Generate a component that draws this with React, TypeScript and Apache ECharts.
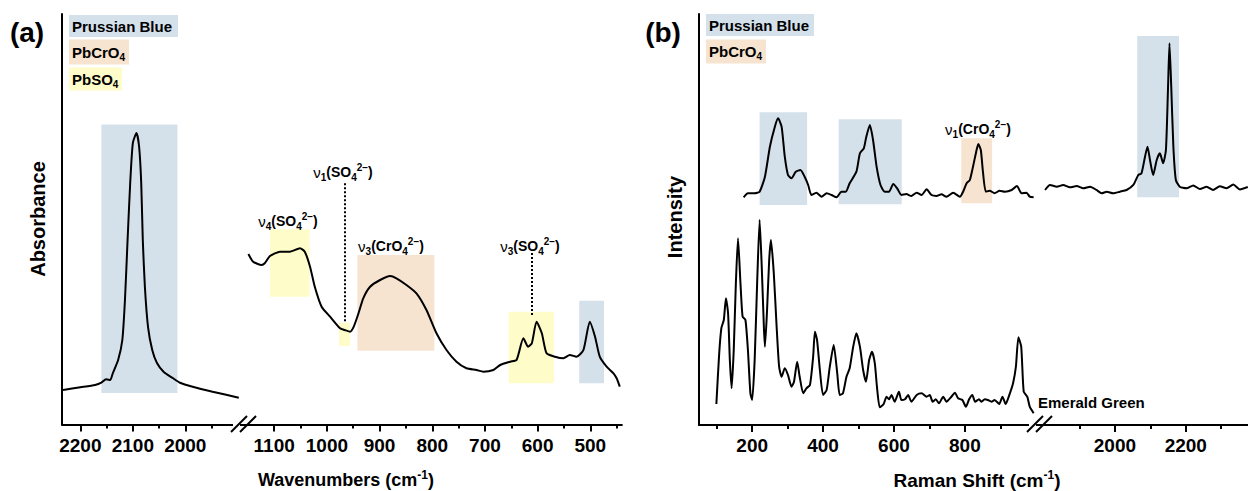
import React, { useEffect, useRef } from "react";
import * as echarts from "echarts";

// ---------- Panel (a): FTIR ----------
const irHighWn = [2233, 2200, 2172, 2160, 2151, 2143, 2138, 2128, 2120, 2115, 2110, 2105, 2100, 2093, 2088, 2084, 2081, 2077, 2071, 2063, 2054, 2041, 2024, 2010, 1986, 1948, 1898];
const irHighAbs = [9.07, 9.72, 10.28, 10.83, 11.66, 11.49, 13.18, 16.32, 21.16, 30.83, 45.34, 59.13, 68.8, 71.2, 67.9, 59.13, 45.34, 33.98, 24.3, 18.74, 15.6, 13.42, 11.97, 10.83, 9.87, 8.66, 7.21];

const irLowWn = [1149, 1140, 1124, 1118, 1108, 1089, 1070, 1051, 1042, 1032, 1023, 1010, 994, 975, 966, 956, 949, 940, 931, 918, 899, 880, 868, 849, 830, 811, 792, 773, 754, 735, 716, 703, 684, 671, 652, 640, 627, 618, 611, 602, 592, 583, 567, 551, 539, 526, 513, 501, 491, 482, 469, 456, 450, 444];
const irLowAbs = [41.96, 40.1, 39.3, 39.71, 41.48, 42.52, 42.52, 43.34, 42.52, 38.89, 34.05, 29.21, 26.8, 23.99, 23.58, 23.17, 24.38, 27.62, 31.25, 34.05, 35.67, 36.64, 36.08, 34.46, 32.45, 28.42, 22.78, 18.74, 15.91, 14.32, 13.91, 13.49, 13.91, 15.11, 15.91, 16.32, 21.57, 19.54, 20.36, 25.59, 22.78, 17.94, 17.12, 16.74, 17.53, 17.12, 18.74, 25.59, 21.96, 17.12, 14.7, 13.11, 11.9, 9.87];

// bands: [from, to, low, high, assignment]
const irHighBands: [number, number, number, number, string][] = [[2160, 2015, 8.34, 73.3, "PB"]];
const irLowBands: [number, number, number, number, string][] = [
  [1108, 1033, 31.63, 47.93, "PbSO4"],
  [977, 956, 19.71, 25.34, "PbSO4"],
  [942, 796, 18.57, 41.72, "PbCrO4"],
  [655, 569, 10.69, 28.0, "PbSO4"],
  [521, 474, 10.69, 30.67, "PB"],
];
// dotted markers: [wavenumber, top, bottom]
const irMarkers: [number, number, number][] = [
  [967, 59.06, 25.34],
  [611, 42.2, 26.8],
];
const irHighMajor = [2200, 2100, 2000];
const irHighMinor = [2150, 2050, 1950];
const irLowMajor = [1100, 1000, 900, 800, 700, 600, 500];
const irLowMinor = [1050, 950, 850, 750, 650, 550, 450];

// ---------- Panel (b): Raman ----------
const egShift = [99, 107, 113, 120, 126, 132, 137, 142, 148, 154, 160, 167, 173, 181, 188, 195, 200, 207, 214, 221, 227, 233, 236, 242, 248, 253, 261, 269, 276, 283, 292, 301, 311, 318, 327, 334, 344, 353, 363, 372, 377, 383, 391, 400, 410, 419, 430, 440, 447, 456, 466, 475, 485, 494, 504, 513, 521, 530, 538, 546, 552,
  560, 571, 579, 586, 593, 602, 614, 621, 631, 640, 649, 664, 678, 692, 701, 709, 718, 727, 739, 748, 762, 772, 781, 793, 803, 812, 821, 829, 840, 847, 856, 865, 875, 884, 897, 906, 915, 927,
  936, 944, 951, 959, 966, 976, 983, 994];
const egInt = [5.8, 18.04, 24.08, 26.09, 31.33, 27.71, 16.43, 9.59, 18.84, 34.95, 45.82, 34.95, 26.88, 26.09, 18.84, 8.38, 6.76, 16.43, 34.95, 50.24, 38.96, 24.47, 19.64, 28.5, 40.58, 45.41, 37.37, 24.47, 14.81, 12.39, 14.42, 12.8, 9.98, 11.18, 16.01, 12.39, 8.38, 9.59, 10.39, 17.22, 23.26, 21.26, 14.01, 7.97, 9.18, 14.81, 20.05, 13.21, 7.97, 8.38, 12.39, 14.42, 19.64, 22.87, 19.64, 14.01, 11.18, 16.43, 18.43, 15.63, 9.98,
  5.0, 5.8, 7.56, 6.93, 7.97, 6.35, 8.77, 6.76, 6.93, 7.97, 6.35, 7.97, 8.38, 7.56, 7.97, 6.35, 6.93, 5.97, 7.56, 6.35, 7.56, 8.53, 7.17, 6.76, 5.14, 6.93, 7.97, 6.35, 6.93, 6.35, 6.93, 6.76, 6.35, 6.76, 5.8, 7.56, 5.8, 8.38,
  10.8, 14.81, 21.91, 19.64, 8.77, 7.56, 5.14, 3.55];

const pbLowShift = [176, 188, 207, 221, 236, 250, 264, 273, 283, 292, 301, 311, 323, 336, 348, 358, 367, 381, 396, 410, 424, 438, 452, 464, 475, 494, 504, 515, 522, 532, 541, 551, 562, 574, 586, 598, 609, 621, 635, 649, 664, 678, 692, 706, 720, 734, 748, 767, 786, 795, 805, 814, 823, 832, 838, 845, 851, 859, 870, 884, 898, 913, 932, 947, 960, 974, 983, 994];
const pbLowInt = [55.72, 56.69, 56.69, 57.08, 60.7, 67.95, 72.78, 74.81, 72.78, 65.53, 61.11, 60.31, 61.91, 62.32, 60.7, 58.7, 56.28, 56.84, 55.87, 56.69, 56.28, 55.72, 57.08, 57.08, 59.11, 61.91, 66.35, 67.56, 70.36, 73.19, 69.57, 63.12, 58.7, 57.08, 57.08, 58.94, 57.9, 56.28, 56.52, 56.04, 56.84, 56.28, 57.66, 56.28, 56.04, 56.45, 55.87, 56.84, 55.87, 57.08, 59.11, 59.9, 63.12, 66.74, 68.6, 67.15, 61.91, 57.08, 57.32, 56.69, 57.32, 57.08, 57.49, 58.45, 56.69, 56.84, 55.87, 55.72];

const pbHighShift = [1803, 1817, 1836, 1854, 1873, 1892, 1911, 1930, 1948, 1963, 1977, 1995, 2014, 2033, 2052, 2066, 2075, 2085, 2092, 2099, 2108, 2118, 2127, 2136, 2144, 2150, 2154, 2159, 2165, 2172, 2183, 2202, 2221, 2240, 2259, 2277, 2296, 2315, 2334, 2353, 2375];
const pbHighInt = [57.49, 58.7, 58.29, 58.7, 58.14, 58.45, 57.9, 58.29, 57.49, 56.69, 57.08, 56.69, 57.08, 57.49, 58.7, 61.11, 61.52, 65.53, 67.95, 64.73, 61.11, 64.73, 66.35, 63.94, 67.15, 82.44, 92.92, 82.44, 67.95, 59.9, 58.29, 57.9, 58.6, 57.7, 58.3, 57.5, 58.4, 57.9, 58.8, 57.6, 58.2];

const ramanLowBands: [number, number, number, number, string][] = [
  [221, 355, 53.86, 76.26, "PB"],
  [444, 622, 54.03, 74.57, "PB"],
  [790, 877, 54.28, 69.98, "PbCrO4"],
];
const ramanHighBands: [number, number, number, number, string][] = [[2063, 2181, 55.72, 94.69, "PB"]];
const ramanLowMajor = [200, 400, 600, 800];
const ramanLowMinor = [100, 300, 500, 700, 900];
const ramanHighMajor = [2000, 2200];
const ramanHighMinor = [1900, 2100, 2300];

const bandColors: Record<string, string> = {
  PB: "#d5e1ea",
  PbCrO4: "#f6e3d0",
  PbSO4: "#fefcc9",
};

const FONT = 'Arial, "Liberation Sans", Helvetica, sans-serif';

const zip = (a: number[], b: number[]) => a.map((v, i) => [v, b[i]]);

function xAxes(gridIndex: number, min: number, max: number, inverse: boolean, major: number[], minor: number[]) {
  return [
    {
      type: "value", gridIndex, min, max, inverse, position: "bottom", offset: 0,
      axisLine: { show: true, onZero: false, lineStyle: { color: "#000", width: 2 } },
      axisTick: { show: true, length: 7, customValues: major, lineStyle: { color: "#000", width: 2 } },
      axisLabel: {
        show: true, customValues: major, formatter: (v: number) => String(v),
        fontSize: 19, fontWeight: "bold", color: "#000", fontFamily: FONT, margin: 11,
      },
      splitLine: { show: false },
    },
    {
      type: "value", gridIndex, min, max, inverse, position: "bottom", offset: 0,
      axisLine: { show: false, onZero: false },
      axisTick: { show: true, length: 4, customValues: minor, lineStyle: { color: "#000", width: 2 } },
      axisLabel: { show: false },
      splitLine: { show: false },
    },
  ];
}

function yAxis(gridIndex: number, visible: boolean) {
  return {
    type: "value", gridIndex, min: 0.725, max: 100, show: visible,
    axisLine: { show: visible, onZero: false, lineStyle: { color: "#000", width: 2 } },
    axisTick: { show: false }, axisLabel: { show: false }, splitLine: { show: false },
  };
}

function bandSeries(xi: number, yi: number, bands: [number, number, number, number, string][], markers: [number, number, number][] = []) {
  return {
    type: "line", xAxisIndex: xi, yAxisIndex: yi, data: [], z: 1, silent: true, symbol: "none",
    markArea: {
      silent: true,
      label: { show: false },
      data: bands.map(([a, b, lo, hi, k]) => [
        { xAxis: a, yAxis: hi, itemStyle: { color: bandColors[k], opacity: 1 } },
        { xAxis: b, yAxis: lo },
      ]),
    },
    markLine: {
      silent: true, symbol: ["none", "none"], label: { show: false },
      lineStyle: { type: "dotted", color: "#000", width: 2 },
      data: markers.map(([w, t, b]) => [{ coord: [w, t] }, { coord: [w, b] }]),
    },
  };
}

function curve(xi: number, yi: number, data: number[][]) {
  return {
    type: "line", xAxisIndex: xi, yAxisIndex: yi, data, z: 3, silent: true,
    symbol: "none", smooth: 0.2,
    lineStyle: { color: "#000", width: 2 },
  };
}

const richStyles = {
  b: { fontSize: 14, fontWeight: "bold", fontFamily: FONT, fill: "#000", lineHeight: 20 },
  n: { fontSize: 15, fontWeight: "normal", fontFamily: FONT, fill: "#000", lineHeight: 20 },
  s: { fontSize: 10, fontWeight: "bold", fontFamily: FONT, fill: "#000", lineHeight: 12, verticalAlign: "bottom" },
  p: { fontSize: 10, fontWeight: "bold", fontFamily: FONT, fill: "#000", lineHeight: 12, verticalAlign: "top" },
};

function richText(x: number, y: number, text: string, align = "center", extra: any = {}) {
  return {
    type: "text", x, y, z: 20, silent: true,
    style: { text, rich: richStyles, align, verticalAlign: "middle", fill: "#000", fontFamily: FONT, fontWeight: "bold", fontSize: 14, ...extra },
  };
}

function plainText(x: number, y: number, text: string, size: number, align = "center", rotation = 0) {
  return {
    type: "text", x, y, rotation, z: 20, silent: true,
    style: { text, align, verticalAlign: "middle", fill: "#000", fontFamily: FONT, fontWeight: "bold", fontSize: size },
  };
}

function legendItem(x: number, y: number, w: number, h: number, key: string, text: string, size = 15) {
  return [
    { type: "rect", z: 5, silent: true, shape: { x, y, width: w, height: h }, style: { fill: bandColors[key] } },
    {
      type: "text", x: x + 3, y: y + h / 2, z: 20, silent: true,
      style: {
        text, align: "left", verticalAlign: "middle", fill: "#000", fontFamily: FONT, fontWeight: "bold", fontSize: size,
        rich: {
          b: { fontSize: size, fontWeight: "bold", fontFamily: FONT, fill: "#000", lineHeight: 20 },
          s: { fontSize: 10, fontWeight: "bold", fontFamily: FONT, fill: "#000", lineHeight: 12, verticalAlign: "bottom" },
        },
      },
    },
  ];
}

function breakMark(x1: number, x2: number) {
  const ln = (ax: number) => ({
    type: "line", z: 20, silent: true,
    shape: { x1: ax, y1: 432, x2: ax + 16, y2: 416 },
    style: { stroke: "#000", lineWidth: 2 },
  });
  return [
    { type: "rect", z: 19, silent: true, shape: { x: x1 + 2, y: 421, width: x2 - x1 - 2, height: 7 }, style: { fill: "#fff" } },
    ln(x1), ln(x2),
  ];
}

function axisTitle(x: number, text: string, size: number) {
  return {
    type: "text", x, y: 480, z: 20, silent: true,
    style: {
      text, align: "center", verticalAlign: "middle", fill: "#000",
      rich: {
        t: { fontSize: size, fontWeight: "bold", fontFamily: FONT, fill: "#000", lineHeight: 22 },
        u: { fontSize: 12, fontWeight: "bold", fontFamily: FONT, fill: "#000", lineHeight: 14, verticalAlign: "top" },
      },
    },
  };
}

function buildOption() {
  return {
    animation: false,
    backgroundColor: "#fff",
    grid: [
      { left: 62, top: 14, width: 181, height: 410.5 },
      { left: 242.6, top: 14, width: 379.3, height: 410.5 },
      { left: 699, top: 14, width: 340.3, height: 411 },
      { left: 1039.4, top: 14, width: 208.4, height: 411 },
    ],
    xAxis: [
      ...xAxes(0, 1890, 2235, true, irHighMajor, irHighMinor),
      ...xAxes(1, 440, 1160, true, irLowMajor, irLowMinor),
      ...xAxes(2, 50, 1010, false, ramanLowMajor, ramanLowMinor),
      ...xAxes(3, 1787, 2375, false, ramanHighMajor, ramanHighMinor),
    ],
    yAxis: [yAxis(0, true), yAxis(1, false), yAxis(2, true), yAxis(3, false)],
    series: [
      bandSeries(0, 0, irHighBands),
      bandSeries(2, 1, irLowBands, irMarkers),
      bandSeries(4, 2, ramanLowBands),
      bandSeries(6, 3, ramanHighBands),
      curve(0, 0, zip(irHighWn, irHighAbs)),
      curve(2, 1, zip(irLowWn, irLowAbs)),
      curve(4, 2, zip(egShift, egInt)),
      curve(4, 2, zip(pbLowShift, pbLowInt)),
      curve(6, 3, zip(pbHighShift, pbHighInt)),
    ],
    graphic: {
      elements: [
        plainText(27, 32, "(a)", 28),
        plainText(663, 32, "(b)", 28),
        ...legendItem(69, 15, 109, 22, "PB", "Prussian Blue"),
        ...legendItem(69, 39.5, 60, 25, "PbCrO4", "{b|PbCrO}{s|4}"),
        ...legendItem(69, 67.5, 53, 23, "PbSO4", "{b|PbSO}{s|4}"),
        ...legendItem(706, 14, 108, 22, "PB", "Prussian Blue"),
        ...legendItem(706, 39.5, 60, 24, "PbCrO4", "{b|PbCrO}{s|4}"),
        richText(288, 221, "{n|ν}{s|4}{b|(SO}{s|4}{p|2−}{b|)}"),
        richText(343, 172, "{n|ν}{s|1}{b|(SO}{s|4}{p|2−}{b|)}"),
        richText(391, 246, "{n|ν}{s|3}{b|(CrO}{s|4}{p|2−}{b|)}"),
        richText(530, 246, "{n|ν}{s|3}{b|(SO}{s|4}{p|2−}{b|)}"),
        richText(978, 129, "{n|ν}{s|1}{b|(CrO}{s|4}{p|2−}{b|)}"),
        plainText(1038, 402, "Emerald Green", 15, "left"),
        ...breakMark(231, 240),
        ...breakMark(1027, 1036),
        plainText(38, 219, "Absorbance", 20, "center", Math.PI / 2),
        plainText(675, 217, "Intensity", 20, "center", Math.PI / 2),
        axisTitle(346, "{t|Wavenumbers (cm}{u|-1}{t|)}", 18),
        axisTitle(977, "{t|Raman Shift (cm}{u|-1}{t|)}", 19),
      ],
    },
  };
}

export default function App() {
  const ref = useRef<HTMLDivElement>(null);
  useEffect(() => {
    if (!ref.current) return;
    const chart = echarts.init(ref.current, null, { renderer: "svg" });
    chart.setOption(buildOption() as any);
    return () => chart.dispose();
  }, []);
  return (
    <div
      ref={ref}
      style={{ position: "fixed", left: 0, top: 0, width: 1248, height: 491, background: "#fff" }}
    />
  );
}
